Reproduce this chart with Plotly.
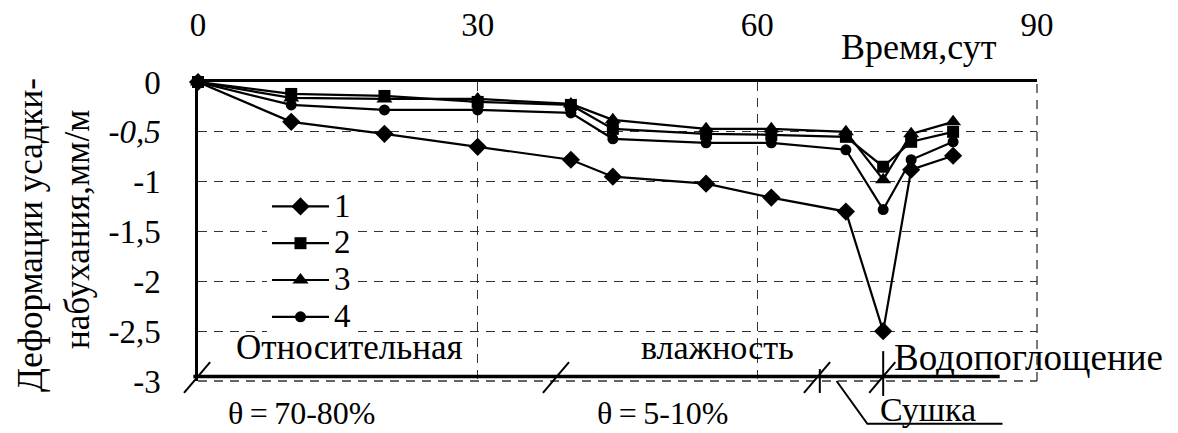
import plotly.graph_objects as go

# ---- data ----
days = [0, 10, 20, 30, 40, 44.5, 54.5, 61.5, 69.5, 73.5, 76.5, 81]
series_1 = [0, -0.40, -0.52, -0.65, -0.78, -0.95, -1.02, -1.16, -1.30, -2.50, -0.88, -0.74]
series_2 = [0, -0.12, -0.14, -0.20, -0.23, -0.47, -0.52, -0.53, -0.55, -0.85, -0.60, -0.50]
series_3 = [0, -0.16, -0.17, -0.17, -0.22, -0.38, -0.47, -0.47, -0.50, -0.98, -0.52, -0.40]
series_4 = [0, -0.23, -0.28, -0.28, -0.31, -0.57, -0.61, -0.61, -0.68, -1.28, -0.78, -0.60]
series_names = ["1", "2", "3", "4"]

x_ticks = [0, 30, 60, 90]
x_tick_labels = ["0", "30", "60", "90"]
y_ticks = [0, -0.5, -1, -1.5, -2, -2.5, -3]
y_tick_labels = ["0", "<i>-0,5</i>", "-1", "-1,5", "-2", "-2,5", "-3"]

phase_marks = [0, 38.5, 66.5, 73.5]     # day boundaries of the regimes
phase_line_end = 86

X_RANGE = [0, 90]
Y_RANGE = [-3, 0]

FONT = "Liberation Serif"
BLACK = "#000000"
GRID = "#333333"

symbols = ["diamond", "square", "triangle-up", "circle"]
sizes = [14, 12, 14, 11]
all_series = [series_1, series_2, series_3, series_4]

PLOT_H = 433 - 82 - 52


def xd(v):
    return (v - X_RANGE[0]) / (X_RANGE[1] - X_RANGE[0])


def yd(v):
    return (v - Y_RANGE[0]) / (Y_RANGE[1] - Y_RANGE[0])


fig = go.Figure()
for i, (name, ys) in enumerate(zip(series_names, all_series)):
    fig.add_trace(go.Scatter(
        x=days, y=ys, mode="lines+markers",
        name="<span style='font-size:33px'>%s</span>" % name,
        line=dict(color=BLACK, width=2.2),
        marker=dict(symbol=symbols[i], size=sizes[i], color=BLACK),
        cliponaxis=False, legendgroup=name,
    ))

grid_dash = "9px,7px"
fig.update_layout(
    width=1178, height=433,
    margin=dict(l=198, r=141, t=82, b=52, autoexpand=False),
    paper_bgcolor="white", plot_bgcolor="white",
    font=dict(family=FONT, size=30, color=BLACK),
    showlegend=True,
    legend=dict(
        x=xd(7.4), y=1 - (183 - 82) / PLOT_H, xanchor="left", yanchor="top",
        bgcolor="white", borderwidth=0, itemwidth=57,
        font=dict(family=FONT, size=26, color=BLACK),
        tracegroupgap=0, traceorder="normal",
    ),
    xaxis=dict(
        range=X_RANGE, side="top", tickmode="array", tickvals=x_ticks,
        ticktext=x_tick_labels, showline=True, linecolor=BLACK, linewidth=2.5,
        showgrid=True, gridcolor=GRID, gridwidth=1.3, griddash=grid_dash,
        zeroline=False, ticks="", ticklabelstandoff=30, automargin=False,
        tickfont=dict(family=FONT, size=33, color=BLACK),
    ),
    yaxis=dict(
        range=Y_RANGE, tickmode="array", tickvals=y_ticks, ticktext=y_tick_labels,
        showline=True, linecolor=BLACK, linewidth=2.5,
        showgrid=True, gridcolor=GRID, gridwidth=1.3, griddash=grid_dash,
        zeroline=False, ticks="", ticklabelstandoff=28, automargin=False,
        tickfont=dict(family=FONT, size=33, color=BLACK),
    ),
)

# y-axis title as two rotated lines
fig.add_annotation(text="Деформации усадки-", xref="paper", yref="paper",
                   x=(30 - 198) / 839, y=1 - (235 - 82) / PLOT_H, textangle=-90,
                   showarrow=False, xanchor="center", yanchor="middle",
                   font=dict(family=FONT, size=35))
fig.add_annotation(text="набухания,мм/м", xref="paper", yref="paper",
                   x=(77 - 198) / 839, y=1 - (230 - 82) / PLOT_H, textangle=-90,
                   showarrow=False, xanchor="center", yanchor="middle",
                   font=dict(family=FONT, size=35))

# x-axis title
fig.add_annotation(text="Время,сут", xref="x", yref="paper", x=77.3, y=1 + (82 - 47) / PLOT_H,
                   showarrow=False, xanchor="center", yanchor="middle",
                   font=dict(family=FONT, size=36))

# regime labels
labels = [
    ("Относительная", 16.3, -2.665, "center", 35),
    ("влажность", 55.7, -2.665, "center", 34),
    ("Водопоглощение", 74.4, -2.76, "left", 37),
    ("θ\u2009=\u200970-80%", 11.2, -3.32, "center", 32),
    ("θ\u2009=\u20095-10%", 49.9, -3.32, "center", 32),
    ("Сушка", 78.3, -3.29, "center", 34),
]
for txt, xv, yv, anc, fs in labels:
    fig.add_annotation(text=txt, xref="x domain", yref="y domain", x=xd(xv), y=yd(yv),
                       showarrow=False, xanchor=anc, yanchor="middle",
                       font=dict(family=FONT, size=fs))

line_style = dict(color=BLACK, width=2)
grid_style = dict(color=GRID, width=1.3, dash=grid_dash)
shapes = []
# dashed grid at the right edge (day 90) and the bottom edge (-3)
shapes.append(dict(type="line", xref="x domain", yref="y domain",
                   x0=xd(90), x1=xd(90), y0=yd(-3), y1=yd(0), line=grid_style))
shapes.append(dict(type="line", xref="x domain", yref="y domain",
                   x0=xd(0), x1=xd(90), y0=yd(-3), y1=yd(-3), line=grid_style))
# regime line
shapes.append(dict(type="line", xref="x domain", yref="y domain",
                   x0=xd(-0.5), x1=xd(phase_line_end), y0=yd(-2.955), y1=yd(-2.955),
                   line=dict(color=BLACK, width=3.5)))
# slashes at regime boundaries
for p in phase_marks:
    shapes.append(dict(type="line", xref="x domain", yref="y domain",
                       x0=xd(p - 1.5), x1=xd(p + 1.3), y0=yd(-3.12), y1=yd(-2.81),
                       line=line_style))
# vertical ticks at drying and water absorption boundaries
shapes.append(dict(type="line", xref="x domain", yref="y domain",
                   x0=xd(phase_marks[2] + 0.2), x1=xd(phase_marks[2] + 0.2),
                   y0=yd(-2.88), y1=yd(-3.12), line=line_style))
shapes.append(dict(type="line", xref="x domain", yref="y domain",
                   x0=xd(phase_marks[3]), x1=xd(phase_marks[3]),
                   y0=yd(-2.70), y1=yd(-3.15), line=line_style))
# leader to "Сушка"
shapes.append(dict(type="path", xref="x domain", yref="y domain",
                   path="M {} {} L {} {} L {} {}".format(
                       xd(68.5), yd(-3.0), xd(71.8), yd(-3.43), xd(86.3), yd(-3.43)),
                   line=line_style))
fig.update_layout(shapes=shapes)

fig.write_html("out.html")
